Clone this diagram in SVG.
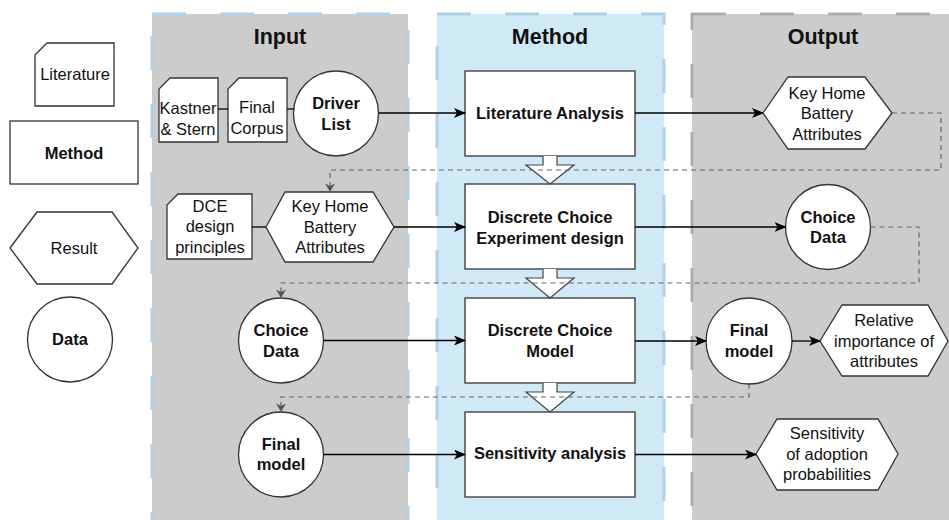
<svg xmlns="http://www.w3.org/2000/svg" width="949" height="520" viewBox="0 0 949 520">
<defs>
<marker id="ah" viewBox="0 0 12 10" refX="11" refY="5" markerWidth="12" markerHeight="10" markerUnits="userSpaceOnUse" orient="auto">
<path d="M0,0 L12,5 L0,10 L3,5 Z" fill="#000"/>
</marker>
<marker id="ahg" viewBox="0 0 10 12" refX="9" refY="6" markerWidth="11" markerHeight="10" markerUnits="userSpaceOnUse" orient="auto">
<path d="M0,0 L10,6 L0,12 L3,6 Z" fill="#555"/>
</marker>
<style>
.col{stroke-width:3;stroke-dasharray:34 34}
.shape{fill:#fff;stroke:#333;stroke-width:1.3}
.t{font-family:"Liberation Sans",Arial,sans-serif;font-size:16.5px;fill:#111;text-anchor:middle;dominant-baseline:central}
.b{font-weight:bold}
.h{font-family:"Liberation Sans",Arial,sans-serif;font-size:21.5px;font-weight:bold;fill:#111;text-anchor:middle;dominant-baseline:central}
.c{fill:none;stroke:#000;stroke-width:1.3}
.d{fill:none;stroke:#666;stroke-width:1.2;stroke-dasharray:5 4}
.blk{fill:#fff;stroke:#444;stroke-width:1.2}
</style>
</defs>
<rect width="949" height="520" fill="#fff"/>
<g id="columns">
<rect x="152" y="14" width="256" height="520" fill="#CCCCCC" stroke="#AFD0E6" class="col"/>
<rect x="437" y="14" width="227" height="520" fill="#D0E9F6" stroke="#AFD0E6" class="col"/>
<rect x="692" y="14" width="270" height="520" fill="#CCCCCC" stroke="#ADADAD" class="col"/>
<text class="h" x="280" y="37">Input</text>
<text class="h" x="550" y="37">Method</text>
<text class="h" x="823" y="37">Output</text>
</g>
<g id="legend">
<g id="legend-literature"><path class="shape" d="M47,43 H114 V106 H35 V55 Z"/><text class="t" x="75" y="74">Literature</text></g>
<g id="legend-method"><rect class="shape" x="10" y="121" width="128" height="63"/><text class="t b" x="74" y="153">Method</text></g>
<g id="legend-result"><path class="shape" d="M10,248 L37,212 H112 L138,248 L112,284 H37 Z"/><text class="t" x="74" y="248">Result</text></g>
<g id="legend-data"><circle class="shape" cx="70" cy="339.5" r="42.5"/><text class="t b" x="70" y="339">Data</text></g>
</g>
<g id="input-kastner"><path class="shape" d="M170,78 H218 V142 H159 V89 Z"/><text class="t" x="188" y="108">Kastner</text><text class="t" x="188" y="129">&amp; Stern</text></g>
<g id="input-corpus"><path class="shape" d="M239,78 H287 V142 H228 V89 Z"/><text class="t" x="257" y="107">Final</text><text class="t" x="257" y="128">Corpus</text></g>
<g id="input-driver"><circle class="shape" cx="336" cy="113.5" r="42.5"/><text class="t b" x="336" y="103">Driver</text><text class="t b" x="336" y="124">List</text></g>
<g id="input-dce"><path class="shape" d="M178,194 H252 V259 H167 V205 Z"/><text class="t" x="210" y="206">DCE</text><text class="t" x="210" y="226">design</text><text class="t" x="210" y="247">principles</text></g>
<g id="input-attributes"><path class="shape" d="M266,227 L285,192 H373 L394,227 L373,262 H285 Z"/><text class="t" x="330" y="206">Key Home</text><text class="t" x="330" y="227">Battery</text><text class="t" x="330" y="247">Attributes</text></g>
<g id="input-choice"><circle class="shape" cx="281" cy="340.5" r="42.5"/><text class="t b" x="281" y="330">Choice</text><text class="t b" x="281" y="351">Data</text></g>
<g id="input-final"><circle class="shape" cx="281" cy="454.5" r="42.5"/><text class="t b" x="281" y="444">Final</text><text class="t b" x="281" y="464">model</text></g>
<g id="m-lit"><rect class="shape" x="465" y="71" width="170" height="85"/><text class="t b" x="550" y="113">Literature Analysis</text></g>
<g id="m-dce"><rect class="shape" x="465" y="184" width="170" height="85"/><text class="t b" x="550" y="217">Discrete Choice</text><text class="t b" x="550" y="238">Experiment design</text></g>
<g id="m-dcm"><rect class="shape" x="465" y="298" width="170" height="85"/><text class="t b" x="550" y="330">Discrete Choice</text><text class="t b" x="550" y="351">Model</text></g>
<g id="m-sens"><rect class="shape" x="465" y="412" width="170" height="85"/><text class="t b" x="550" y="453">Sensitivity analysis</text></g>
<g id="o-attributes"><path class="shape" d="M763,113 L788,77 H865 L892,113 L865,149 H788 Z"/><text class="t" x="827" y="93">Key Home</text><text class="t" x="827" y="113">Battery</text><text class="t" x="827" y="134">Attributes</text></g>
<g id="o-choice"><circle class="shape" cx="828" cy="227" r="42.5"/><text class="t b" x="828" y="217">Choice</text><text class="t b" x="828" y="237">Data</text></g>
<g id="o-final"><circle class="shape" cx="749" cy="341" r="43"/><text class="t b" x="749" y="330">Final</text><text class="t b" x="749" y="351">model</text></g>
<g id="o-relative"><path class="shape" d="M820,341 L842,305 H928 L948,341 L928,376 H842 Z"/><text class="t" x="884" y="320">Relative</text><text class="t" x="884" y="341">importance of</text><text class="t" x="884" y="361">attributes</text></g>
<g id="o-sensitivity"><path class="shape" d="M756,454 L777,419 H878 L898,454 L878,490 H777 Z"/><text class="t" x="827" y="433">Sensitivity</text><text class="t" x="827" y="454">of adoption</text><text class="t" x="827" y="474">probabilities</text></g>
<g id="connectors">
<line class="c" x1="218" y1="109" x2="228" y2="109"/>
<line class="c" x1="287" y1="109" x2="294" y2="109"/>
<line class="c" x1="378.5" y1="113" x2="465" y2="113" marker-end="url(#ah)"/>
<line class="c" x1="252" y1="227" x2="266" y2="227"/>
<line class="c" x1="394" y1="227" x2="465" y2="227" marker-end="url(#ah)"/>
<line class="c" x1="323.5" y1="340.5" x2="465" y2="340.5" marker-end="url(#ah)"/>
<line class="c" x1="323.5" y1="454.5" x2="465" y2="454.5" marker-end="url(#ah)"/>
<line class="c" x1="635" y1="113" x2="763" y2="113" marker-end="url(#ah)"/>
<line class="c" x1="635" y1="227" x2="785.5" y2="227" marker-end="url(#ah)"/>
<line class="c" x1="635" y1="341" x2="706" y2="341" marker-end="url(#ah)"/>
<line class="c" x1="792" y1="341" x2="820" y2="341" marker-end="url(#ah)"/>
<line class="c" x1="635" y1="454.5" x2="756" y2="454.5" marker-end="url(#ah)"/>
<path class="blk" d="M543,156 V165 H526 L550,184 L574,165 H557 V156"/>
<path class="blk" d="M543,269 V278 H526 L550,298 L574,278 H557 V269"/>
<path class="blk" d="M543,383 V392 H526 L550,412 L574,392 H557 V383"/>
<path class="d" d="M892,113 H941 V170 H330 V191" marker-end="url(#ahg)"/>
<path class="d" d="M870.5,227 H919 V283 H281 V297" marker-end="url(#ahg)"/>
<path class="d" d="M749,384 V397 H281 V411" marker-end="url(#ahg)"/>
</g>
</svg>
